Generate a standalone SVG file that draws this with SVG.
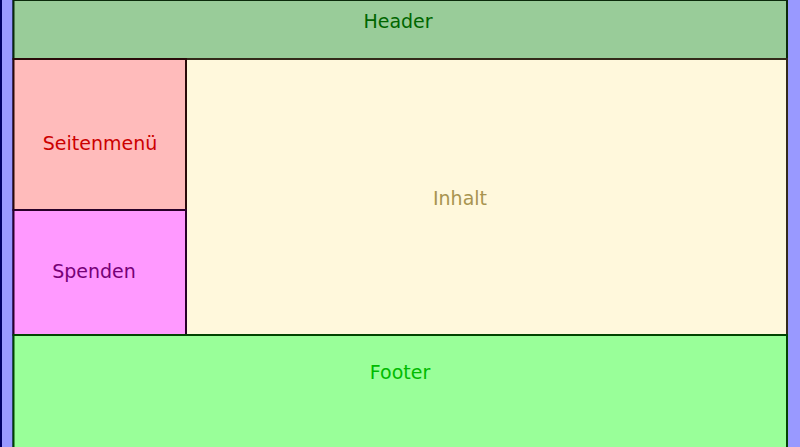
<svg xmlns="http://www.w3.org/2000/svg" width="800" height="447" viewBox="0 0 800 447">
<style>
rect{stroke-width:2}
text{font-family:"DejaVu Sans",sans-serif;font-size:19px;text-anchor:middle}
</style>
<g id="bar-left"><rect x="1" y="-2" width="12.5" height="451" fill="#9999ff" stroke="#000066"/></g>
<g id="bar-right"><rect x="787" y="-2" width="14" height="451" fill="#9999ff" stroke="#000066"/></g>
<g id="header"><rect x="13.5" y="0" width="773.5" height="59" fill="#99cc99" stroke="#0a2a0a"/><text x="398" y="28" fill="#006600">Header</text></g>
<g id="inhalt"><rect x="186" y="59" width="601" height="276" fill="#fff8dc" stroke="#332a1a"/><text x="460" y="205" fill="#a89450">Inhalt</text></g>
<g id="seitenmenue"><rect x="13.5" y="59" width="172.5" height="151" fill="#ffbbbb" stroke="#2a0a0a"/><text x="100" y="150" fill="#cc0000">Seitenmenü</text></g>
<g id="spenden"><rect x="13.5" y="210" width="172.5" height="125" fill="#ff99ff" stroke="#2a002a"/><text x="94" y="278" fill="#770077">Spenden</text></g>
<g id="footer"><rect x="13.5" y="335" width="773.5" height="114" fill="#99ff99" stroke="#004400"/><text x="400" y="379" fill="#00bb00">Footer</text></g>
<g id="connectors"/>
</svg>
